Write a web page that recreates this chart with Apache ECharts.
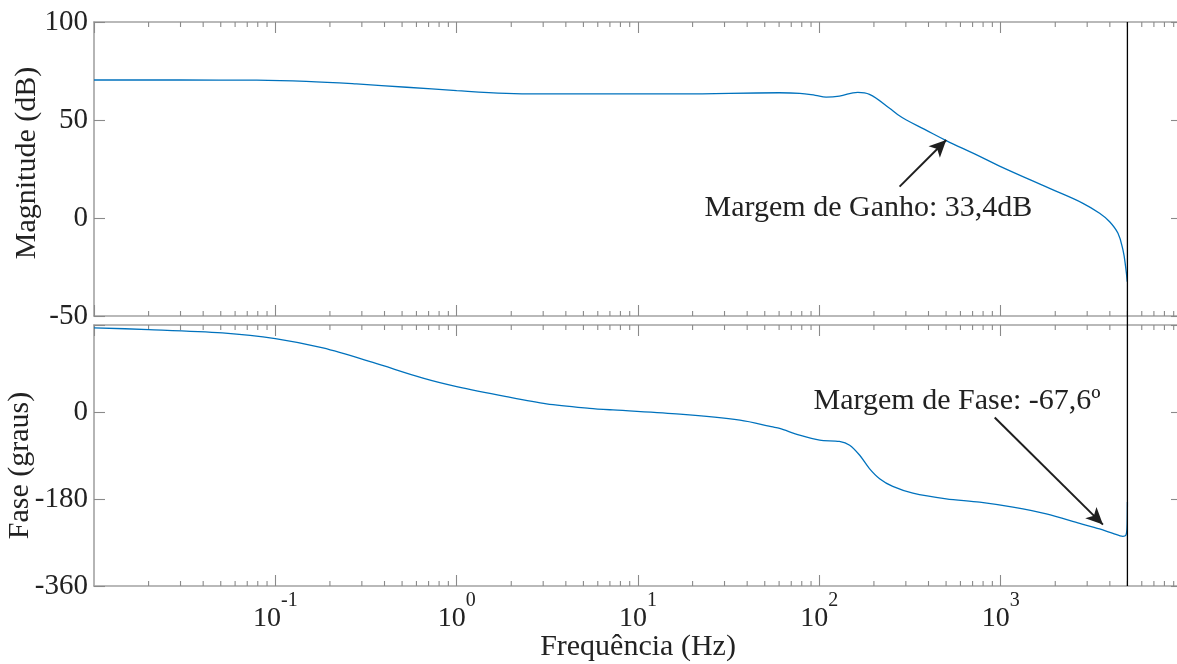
<!DOCTYPE html>
<html>
<head>
<meta charset="utf-8">
<script src="https://cdn.jsdelivr.net/npm/echarts@6/dist/echarts.min.js"></script>
<style>
  html, body { margin: 0; padding: 0; overflow: hidden; background: #ffffff; }
  #chart { width: 1183px; height: 664px; }
</style>
</head>
<body>
<div id="chart"></div>
<script>
// Bode diagram of the open-loop response: magnitude (dB) and phase (graus)
const FONT = '"Times New Roman", "Liberation Serif", "DejaVu Serif", serif';

// Magnitude curve
const magFreq = [0.01, 0.03, 0.079, 0.148, 0.28, 0.53, 1.0, 1.88, 2.87, 17, 60, 78, 95, 109, 129, 163, 189, 244, 270, 302, 381, 501, 718, 986, 1862, 2843, 3513, 3990, 4436, 4725, 4887, 4990];
const magDb   = [70.4, 70.4, 70.3, 69.7, 68.4, 66.7, 65.0, 63.6, 63.3, 63.3, 63.9, 63.6, 62.6, 61.7, 62.2, 64.1, 63.1, 56.0, 52.8, 50.0, 45.2, 39.5, 32.7, 26.5, 15.1, 7.5, 2.4, -1.9, -7.8, -16.3, -24.8, -32.5];

// Phase curve
const phaseFreq = [0.01, 0.02, 0.051, 0.1, 0.183, 0.345, 0.652, 1.0, 1.88, 3.13, 5.4, 7.28, 17, 36.5, 55.5, 60.4, 77.8, 100.5, 129, 147, 167, 189, 215, 254, 328, 501, 766, 1169, 1786, 2727, 3513, 4160, 4720, 4900, 4975, 5000];
const phaseDeg  = [174, 170.6, 163.7, 152, 132.5, 102.6, 70.1, 52.6, 31.8, 17, 7.7, 4.2, -4.5, -17, -31, -34, -47.9, -58.3, -61, -68.7, -89.5, -117, -138, -154, -167.9, -179.6, -186.6, -197, -210.8, -230.3, -242, -251, -257.3, -255, -240, -186];

// Axis ranges and tick steps
const freqRange  = [0.01, 10000];
const magRange   = [-50, 100];
const magStep    = 50;
const phaseRange = [-360, 180];
const phaseStep  = 180;
const phaseLabelsShown = [-360, -180, 0];

// Nyquist frequency marker and margin annotations
const nyquistHz = 5000;
const gainText  = 'Margem de Ganho: 33,4dB';
const phaseText = 'Margem de Fase: -67,6º';
const gainArrow  = [[277, 16], [501, 39.8]];
const phaseArrow = [[927, -11.4], [3664, -233]];
const gainTextAt  = [23.3, 4.8];
const phaseTextAt = [93, 23];

// Minor tick positions (2..9 within each decade)
const minorTickFreqs = [];
for (let e = -2; e < 4; e++) {
  for (let m = 2; m <= 9; m++) minorTickFreqs.push(m * Math.pow(10, e));
}

const AXIS_COLOR = '#a3a3a3';
const TICK_COLOR = '#8a8a8a';
const TEXT_COLOR = '#222222';
const CURVE_COLOR = '#0072BD';
const TEXT_SIZE = 30;

function pairs(xs, ys) { return xs.map((x, i) => [x, ys[i]]); }

function xAxes(gridIndex, withLabels) {
  const base = {
    type: 'log', logBase: 10, gridIndex,
    min: freqRange[0], max: freqRange[1],
    axisLine: { show: true, onZero: false, lineStyle: { color: AXIS_COLOR, width: 1.6 } },
    axisTick: { show: true, inside: true, length: 11, lineStyle: { color: TICK_COLOR, width: 1.1 } },
    splitLine: { show: false },
    minorTick: { show: false }
  };
  const bottom = Object.assign({}, base, {
    position: 'bottom',
    axisLabel: withLabels ? {
      show: true, margin: 5, showMinLabel: false, showMaxLabel: false,
      formatter: v => '{b|10}{s|' + Math.round(Math.log10(v)) + '}',
      rich: {
        b: { fontFamily: FONT, fontSize: 28, color: TEXT_COLOR, lineHeight: 42, verticalAlign: 'bottom' },
        s: { fontFamily: FONT, fontSize: 20, color: TEXT_COLOR, lineHeight: 20, verticalAlign: 'top' }
      }
    } : { show: false }
  });
  if (withLabels) {
    bottom.name = 'Frequência (Hz)';
    bottom.nameLocation = 'middle';
    bottom.nameGap = 46;
    bottom.nameMoveOverlap = false;
    bottom.nameTextStyle = { fontFamily: FONT, fontSize: TEXT_SIZE, color: TEXT_COLOR };
  }
  const top = Object.assign({}, base, { position: 'top', axisLabel: { show: false } });
  return [bottom, top];
}

function yAxes(gridIndex, range, step, name, nameGap, namePadding, shown) {
  const base = {
    type: 'value', gridIndex, min: range[0], max: range[1], interval: step,
    axisLine: { show: true, onZero: false, lineStyle: { color: AXIS_COLOR, width: 1.6 } },
    axisTick: { show: true, inside: true, length: 11, lineStyle: { color: TICK_COLOR, width: 1.1 } },
    splitLine: { show: false }
  };
  const left = Object.assign({}, base, {
    position: 'left',
    name, nameLocation: 'middle', nameGap, nameMoveOverlap: false,
    nameTextStyle: { fontFamily: FONT, fontSize: TEXT_SIZE, color: TEXT_COLOR, padding: namePadding },
    axisLabel: {
      show: true, margin: 6, fontFamily: FONT, fontSize: 29, color: TEXT_COLOR,
      formatter: v => (shown && shown.indexOf(v) < 0) ? '' : String(v)
    }
  });
  const right = Object.assign({}, base, { position: 'right', axisLabel: { show: false } });
  return [left, right];
}

function minorTicks(xAxisIndex, yAxisIndex, range) {
  return {
    type: 'custom', xAxisIndex, yAxisIndex, silent: true, z: 3,
    data: minorTickFreqs.map(f => [f, range[0]]),
    encode: { x: 0, y: 1 },
    renderItem: (params, api) => {
      const f = api.value(0);
      const b = api.coord([f, range[0]]);
      const t = api.coord([f, range[1]]);
      const st = { stroke: TICK_COLOR, lineWidth: 1.1 };
      return {
        type: 'group',
        children: [
          { type: 'line', shape: { x1: b[0], y1: b[1], x2: b[0], y2: b[1] - 5 }, style: st },
          { type: 'line', shape: { x1: t[0], y1: t[1], x2: t[0], y2: t[1] + 5 }, style: st }
        ]
      };
    }
  };
}

function arrowMark(arrow) {
  return {
    silent: true,
    symbol: ['none', 'arrow'],
    symbolSize: [12, 17],
    lineStyle: { color: '#1f1f1f', width: 2, type: 'solid' },
    label: { show: false },
    emphasis: { disabled: true },
    data: [[{ coord: arrow[0] }, { coord: arrow[1] }]]
  };
}

const chart = echarts.init(document.getElementById('chart'), null, { renderer: 'canvas' });

const option = {
  backgroundColor: '#ffffff',
  animation: false,
  grid: [
    { left: 94, right: 1, top: 22, height: 294, containLabel: false, outerBoundsMode: 'none' },
    { left: 94, right: 1, top: 325, height: 261, containLabel: false, outerBoundsMode: 'none' }
  ],
  xAxis: [].concat(xAxes(0, false), xAxes(1, true)),
  yAxis: [].concat(
    yAxes(0, magRange, magStep, 'Magnitude (dB)', 52, [0, 0, 0, 12], null),
    yAxes(1, phaseRange, phaseStep, 'Fase (graus)', 59, [0, 20, 0, 0], phaseLabelsShown)
  ),
  series: [
    {
      type: 'line', name: 'Magnitude', xAxisIndex: 0, yAxisIndex: 0,
      data: pairs(magFreq, magDb), showSymbol: false, smooth: 0.4, z: 4,
      lineStyle: { color: CURVE_COLOR, width: 1.3 },
      markLine: arrowMark(gainArrow)
    },
    {
      type: 'line', name: 'Fase', xAxisIndex: 2, yAxisIndex: 2,
      data: pairs(phaseFreq, phaseDeg), showSymbol: false, smooth: 0.3, z: 4,
      lineStyle: { color: CURVE_COLOR, width: 1.3 },
      markLine: arrowMark(phaseArrow)
    },
    minorTicks(0, 0, magRange),
    minorTicks(2, 2, phaseRange)
  ]
};
chart.setOption(option);

// Nyquist marker spanning both panels, and the margin labels
const xNyq = chart.convertToPixel({ xAxisIndex: 0 }, nyquistHz);
const yTop = chart.convertToPixel({ yAxisIndex: 0 }, magRange[1]);
const yBot = chart.convertToPixel({ yAxisIndex: 2 }, phaseRange[0]);
const gainPos = chart.convertToPixel({ xAxisIndex: 0, yAxisIndex: 0 }, gainTextAt);
const phasePos = chart.convertToPixel({ xAxisIndex: 2, yAxisIndex: 2 }, phaseTextAt);
const labelStyle = (text) => ({
  text, fontFamily: FONT, fontSize: TEXT_SIZE, fill: TEXT_COLOR,
  align: 'left', verticalAlign: 'middle', textAlign: 'left', textVerticalAlign: 'middle'
});
chart.setOption({
  graphic: [
    { type: 'line', silent: true, z: 20,
      shape: { x1: xNyq, y1: yTop, x2: xNyq, y2: yBot },
      style: { stroke: '#000000', lineWidth: 1.3 } },
    { type: 'text', silent: true, z: 20, x: gainPos[0], y: gainPos[1], style: labelStyle(gainText) },
    { type: 'text', silent: true, z: 20, x: phasePos[0], y: phasePos[1], style: labelStyle(phaseText) }
  ]
});
</script>
</body>
</html>
